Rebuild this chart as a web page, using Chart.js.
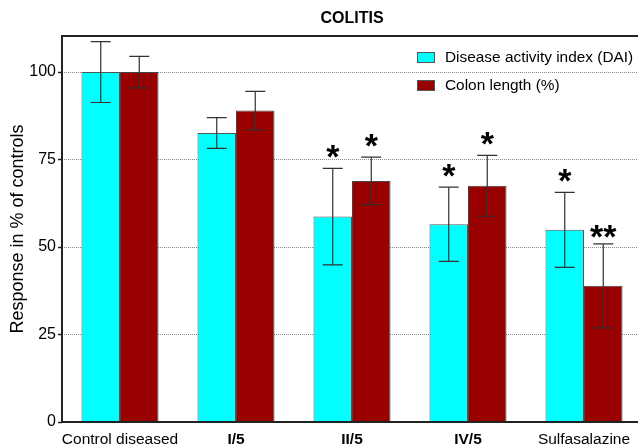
<!DOCTYPE html>
<html>
<head>
<meta charset="utf-8">
<script src="https://cdn.jsdelivr.net/npm/chart.js@4"></script>
<style>
  html, body { margin: 0; padding: 0; background: #fff; overflow: hidden; }
  #wrap { width: 642px; height: 447px; position: relative; }
</style>
</head>
<body>
<div id="wrap"><canvas id="chart"></canvas></div>
<script>
const categories = ['Control diseased', 'I/5', 'II/5', 'IV/5', 'Sulfasalazine'];
const boldLabels = [false, true, true, true, false];

const daiValues = [100, 82.6, 58.7, 56.5, 54.9];
const daiErrors = [8.7, 4.4, 13.8, 10.6, 10.7];
const daiMarks = ['', '', '*', '*', '*'];

const colonValues = [100, 89.0, 68.9, 67.5, 38.9];
const colonErrors = [4.5, 5.5, 6.8, 8.7, 12.0];
const colonMarks = ['', '', '*', '*', '**'];

const yTicks = [0, 25, 50, 75, 100];

const FONT = 'Liberation Sans, Arial, sans-serif';

// error bars + significance stars
const errorBars = {
  id: 'errorBars',
  afterDatasetsDraw(chart) {
    const ctx = chart.ctx;
    const y = chart.scales.y;
    chart.data.datasets.forEach((ds, i) => {
      const meta = chart.getDatasetMeta(i);
      meta.data.forEach((bar, j) => {
        const v = ds.data[j], e = ds.errors[j];
        const top = y.getPixelForValue(v + e);
        const bot = y.getPixelForValue(v - e);
        ctx.save();
        ctx.strokeStyle = '#333';
        ctx.lineWidth = 1.2;
        ctx.beginPath();
        ctx.moveTo(bar.x, top); ctx.lineTo(bar.x, bot);
        ctx.moveTo(bar.x - 10, top); ctx.lineTo(bar.x + 10, top);
        ctx.moveTo(bar.x - 10, bot); ctx.lineTo(bar.x + 10, bot);
        ctx.stroke();
        const mark = ds.marks[j];
        if (mark) {
          ctx.fillStyle = '#000';
          ctx.font = 'bold 34px ' + FONT;
          ctx.textAlign = 'center';
          ctx.textBaseline = 'alphabetic';
          const m = ctx.measureText(mark);
          const cy = top - (mark.length > 1 ? 12 : 16.5);
          ctx.fillText(mark, bar.x, cy + (m.actualBoundingBoxAscent - m.actualBoundingBoxDescent) / 2);
        }
        ctx.restore();
      });
    });
  }
};

// frame, title and legend
const decor = {
  id: 'decor',
  afterDraw(chart) {
    const ctx = chart.ctx;
    const a = chart.chartArea;
    ctx.save();
    ctx.strokeStyle = '#222';
    ctx.lineWidth = 2;
    ctx.beginPath();
    ctx.moveTo(a.left, a.bottom); ctx.lineTo(a.left, a.top); ctx.lineTo(chart.width, a.top);
    ctx.moveTo(a.left, a.bottom); ctx.lineTo(chart.width, a.bottom);
    ctx.stroke();

    ctx.fillStyle = '#000';
    ctx.font = 'bold 16px ' + FONT;
    ctx.textAlign = 'center';
    ctx.textBaseline = 'middle';
    ctx.fillText('COLITIS', (a.left + a.right) / 2, 19);

    ctx.font = '15.4px ' + FONT;
    ctx.textAlign = 'left';
    chart.data.datasets.forEach((ds, i) => {
      const yc = 57 + i * 28;
      ctx.fillStyle = ds.backgroundColor;
      ctx.fillRect(417, yc - 5, 18, 11);
      ctx.strokeStyle = '#555';
      ctx.lineWidth = 1;
      ctx.strokeRect(417.5, yc - 4.5, 17, 10);
      ctx.fillStyle = '#000';
      ctx.fillText(ds.label, 445, yc + 1);
    });
    ctx.restore();
  }
};

new Chart(document.getElementById('chart'), {
  type: 'bar',
  data: {
    labels: categories,
    datasets: [
      {
        label: 'Disease activity index (DAI)',
        data: daiValues,
        errors: daiErrors,
        marks: daiMarks,
        backgroundColor: '#00FFFF',
        borderColor: '#555',
        borderWidth: 1,
      },
      {
        label: 'Colon length (%)',
        data: colonValues,
        errors: colonErrors,
        marks: colonMarks,
        backgroundColor: '#990000',
        borderColor: '#444',
        borderWidth: 1,
      },
    ],
  },
  options: {
    responsive: true,
    maintainAspectRatio: false,
    animation: false,
    layout: { padding: { top: 36, left: 0, right: 0, bottom: 0 } },
    datasets: { bar: { categoryPercentage: 0.664, barPercentage: 1 } },
    plugins: {
      legend: { display: false },
      title: { display: false },
      tooltip: { enabled: false },
    },
    scales: {
      x: {
        grid: { display: false, drawTicks: false },
        border: { display: false },
        ticks: {
          color: '#000',
          padding: 8,
          maxRotation: 0,
          autoSkip: false,
          font: (c) => ({ family: FONT, size: 15.5, weight: boldLabels[c.index] ? 'bold' : 'normal' }),
        },
        afterFit: (s) => { s.height = 25; },
      },
      y: {
        min: 0,
        max: 110.3,
        afterBuildTicks: (s) => { s.ticks = yTicks.map(v => ({ value: v })); },
        grid: {
          color: (c) => (c.tick && c.tick.value === 0 ? 'rgba(0,0,0,0)' : '#888'),
          lineWidth: 1,
          tickLength: 4,
          tickColor: '#222',
          tickWidth: 1.5,
        },
        border: { display: false, dash: [1, 1] },
        ticks: { color: '#000', padding: 2, font: { family: FONT, size: 16 } },
        title: {
          display: true,
          text: 'Response in % of controls',
          color: '#000',
          font: { family: FONT, size: 18 },
          padding: { top: 7, bottom: 0 },
        },
        afterFit: (s) => { s.width = 62; },
      },
    },
  },
  plugins: [errorBars, decor],
});
</script>
</body>
</html>
